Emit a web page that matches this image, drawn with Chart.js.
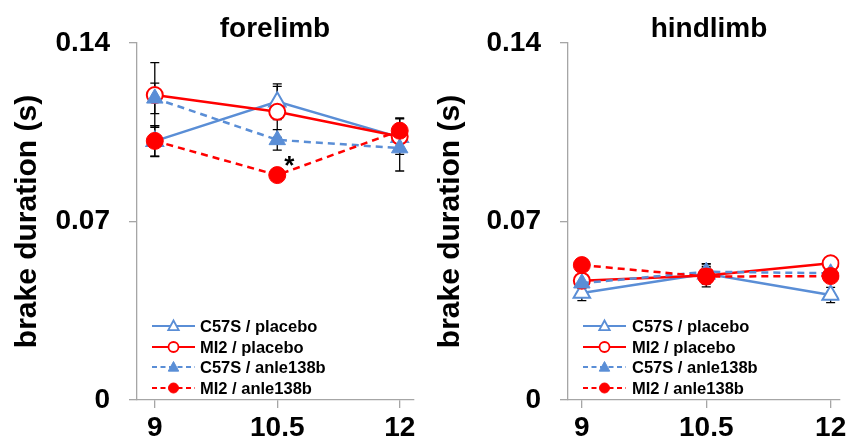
<!DOCTYPE html>
<html>
<head>
<meta charset="utf-8">
<script src="https://cdn.jsdelivr.net/npm/chart.js@4.4.1/dist/chart.umd.min.js"></script>
<style>
  html, body { margin: 0; padding: 0; background: #fff; }
  #wrap { position: relative; width: 851px; height: 445px; overflow: hidden; }
  .pane { position: absolute; top: 0; height: 445px; }
</style>
</head>
<body>
<div id="wrap">
  <div class="pane" id="p1" style="left:0;width:425px;"><canvas id="c1"></canvas></div>
  <div class="pane" id="p2" style="left:425px;width:426px;"><canvas id="c2"></canvas></div>
</div>
<script>
// ---------- data ----------
const ages = [9, 10.5, 12];
const yTicks = [0, 0.07, 0.14];
const seriesNames = ["C57S / placebo", "MI2 / placebo", "C57S / anle138b", "MI2 / anle138b"];

const foreC57Placebo = [0.1015, 0.1170, 0.1030];
const foreMI2Placebo = [0.1196, 0.1130, 0.1033];
const foreC57Anle    = [0.1183, 0.1020, 0.0988];
const foreMI2Anle    = [0.1016, 0.0882, 0.1056];
const foreC57PlaceboErr = [0.0060, 0.0070, 0.0040];
const foreMI2PlaceboErr = [0.0127, 0.0100, 0.0070];
const foreC57AnleErr    = [0.0060, 0.0040, 0.0090];
const foreMI2AnleErr    = [0.0060, 0.0020, 0.0050];

const hindC57Placebo = [0.0420, 0.0495, 0.0412];
const hindMI2Placebo = [0.0468, 0.0488, 0.0536];
const hindC57Anle    = [0.0458, 0.0503, 0.0497];
const hindMI2Anle    = [0.0529, 0.0484, 0.0486];
const hindC57PlaceboErr = [0.0030, 0.0040, 0.0030];
const hindMI2PlaceboErr = [0.0020, 0.0030, 0.0020];
const hindC57AnleErr    = [0.0020, 0.0030, 0.0030];
const hindMI2AnleErr    = [0.0020, 0.0040, 0.0020];

// ---------- styling ----------
const BLUE = '#5a8ed6';
const RED = '#ff0000';
const AXIS = '#a6a6a6';
const FONT = '"Liberation Sans", Arial, sans-serif';

function makeDatasets(v1, v2, v3, v4, e1, e2, e3, e4) {
  const pts = v => ages.map((a, i) => ({ x: a, y: v[i] }));
  return [
    { label: seriesNames[0], data: pts(v1), err: e1, borderColor: BLUE, borderWidth: 2.5, borderDash: [],
      pointStyle: 'triangle', pointRadius: 9.5, pointBackgroundColor: '#ffffff', pointBorderColor: BLUE, pointBorderWidth: 2, order: 4 },
    { label: seriesNames[1], data: pts(v2), err: e2, borderColor: RED, borderWidth: 2.5, borderDash: [],
      pointStyle: 'circle', pointRadius: 8, pointBackgroundColor: '#ffffff', pointBorderColor: RED, pointBorderWidth: 2, order: 3 },
    { label: seriesNames[2], data: pts(v3), err: e3, borderColor: BLUE, borderWidth: 2.5, borderDash: [7, 5],
      pointStyle: 'triangle', pointRadius: 9.5, pointBackgroundColor: BLUE, pointBorderColor: BLUE, pointBorderWidth: 1, order: 2 },
    { label: seriesNames[3], data: pts(v4), err: e4, borderColor: RED, borderWidth: 2.5, borderDash: [7, 5],
      pointStyle: 'circle', pointRadius: 8.5, pointBackgroundColor: RED, pointBorderColor: RED, pointBorderWidth: 1, order: 1 }
  ];
}

// error bars drawn under markers
const errorBars = {
  id: 'errorBars',
  beforeDatasetsDraw(chart) {
    const { ctx, scales: { x, y } } = chart;
    ctx.save();
    ctx.strokeStyle = '#000';
    ctx.lineWidth = 1.3;
    chart.data.datasets.forEach(ds => {
      ds.data.forEach((p, i) => {
        const e = ds.err[i];
        const px = x.getPixelForValue(p.x);
        const yt = y.getPixelForValue(p.y + e);
        const yb = y.getPixelForValue(p.y - e);
        ctx.beginPath();
        ctx.moveTo(px, yt); ctx.lineTo(px, yb);
        ctx.moveTo(px - 4.5, yt); ctx.lineTo(px + 4.5, yt);
        ctx.moveTo(px - 4.5, yb); ctx.lineTo(px + 4.5, yb);
        ctx.stroke();
      });
    });
    ctx.restore();
  }
};

function drawMarker(ctx, ds, cx, cy, r) {
  ctx.save();
  ctx.setLineDash([]);
  ctx.fillStyle = ds.pointBackgroundColor;
  ctx.strokeStyle = ds.pointBorderColor;
  ctx.lineWidth = ds.pointBorderWidth === 2 ? 1.8 : 1;
  ctx.beginPath();
  if (ds.pointStyle === 'triangle') {
    ctx.moveTo(cx, cy - r);
    ctx.lineTo(cx + r * 0.95, cy + r * 0.75);
    ctx.lineTo(cx - r * 0.95, cy + r * 0.75);
    ctx.closePath();
  } else {
    ctx.arc(cx, cy, r, 0, Math.PI * 2);
  }
  ctx.fill();
  ctx.stroke();
  ctx.restore();
}

// in-plot legend, title and annotations
const decor = {
  id: 'decor',
  afterDraw(chart, args, opts) {
    const { ctx, chartArea } = chart;
    ctx.save();
    // title
    ctx.fillStyle = '#000';
    ctx.font = 'bold 28px ' + FONT;
    ctx.textAlign = 'center';
    ctx.textBaseline = 'alphabetic';
    ctx.fillText(opts.title, opts.titleX, 37);
    // legend
    const rows = [-74, -53, -33, -12];
    chart.data.datasets.forEach((ds, i) => {
      const yy = chartArea.bottom + rows[i];
      const x0 = chartArea.left + 15;
      ctx.save();
      ctx.strokeStyle = ds.borderColor;
      ctx.lineWidth = 2;
      ctx.setLineDash(ds.borderDash.length ? [5, 3.5] : []);
      ctx.beginPath();
      ctx.moveTo(x0, yy); ctx.lineTo(x0 + 43, yy);
      ctx.stroke();
      ctx.restore();
      drawMarker(ctx, ds, x0 + 21.5, yy, ds.pointStyle === 'triangle' ? 5.5 : 5);
      ctx.fillStyle = '#000';
      ctx.font = 'bold 16.5px ' + FONT;
      ctx.textAlign = 'left';
      ctx.textBaseline = 'middle';
      ctx.fillText(ds.label, chartArea.left + opts.textOff, yy + 1);
    });
    // significance star
    if (opts.star) {
      const { x, y } = chart.scales;
      const px = x.getPixelForValue(opts.star.x);
      const py = y.getPixelForValue(opts.star.y);
      ctx.fillStyle = '#000';
      ctx.font = 'bold 26px ' + FONT;
      ctx.textAlign = 'center';
      ctx.textBaseline = 'alphabetic';
      ctx.fillText('*', px + 12, py - 1);
    }
    ctx.restore();
  }
};

function makeChart(canvasId, datasets, cfg) {
  return new Chart(document.getElementById(canvasId), {
    type: 'line',
    data: { datasets },
    options: {
      responsive: true,
      maintainAspectRatio: false,
      animation: false,
      layout: { padding: { left: 0, right: cfg.padRight, top: 43, bottom: 0 } },
      plugins: {
        legend: { display: false },
        tooltip: { enabled: false },
        title: { display: false },
        decor: { title: cfg.title, titleX: cfg.titleX, textOff: cfg.textOff, star: cfg.star }
      },
      elements: { line: { tension: 0 } },
      scales: {
        x: {
          type: 'linear',
          min: cfg.xMin, max: cfg.xMax,
          afterBuildTicks: s => { s.ticks = ages.map(v => ({ value: v })); },
          afterFit: s => { s.height = 45; },
          ticks: { font: { family: FONT, size: 28, weight: 'bold' }, color: '#000', padding: 3,
                   maxRotation: 0, autoSkip: false, callback: v => String(v) },
          grid: { drawOnChartArea: false, drawTicks: true, tickLength: 8, color: AXIS, lineWidth: 1.3 },
          border: { color: AXIS, width: 1.3 }
        },
        y: {
          min: 0, max: 0.14,
          afterBuildTicks: s => { s.ticks = yTicks.map(v => ({ value: v })); },
          afterFit: s => { s.width = cfg.yWidth; },
          ticks: { font: { family: FONT, size: 28, weight: 'bold' }, color: '#000', padding: 19,
                   callback: v => (v === 0 ? '0' : v.toFixed(2)) },
          grid: { drawOnChartArea: false, drawTicks: true, tickLength: 8, color: AXIS, lineWidth: 1.3 },
          border: { color: AXIS, width: 1.3 },
          title: { display: true, text: 'brake duration (s)', color: '#000',
                   font: { family: FONT, size: 30, weight: 'bold' }, padding: { top: cfg.titlePad, bottom: 0 } }
        }
      }
    },
    plugins: [errorBars, decor]
  });
}

makeChart('c1',
  makeDatasets(foreC57Placebo, foreMI2Placebo, foreC57Anle, foreMI2Anle,
               foreC57PlaceboErr, foreMI2PlaceboErr, foreC57AnleErr, foreMI2AnleErr),
  { title: 'forelimb', titleX: 275, padRight: 8, yWidth: 137, xMin: 8.782, xMax: 12.169,
    textOff: 63, titlePad: 10, star: { x: 10.5, y: foreMI2Anle[1] } });

makeChart('c2',
  makeDatasets(hindC57Placebo, hindMI2Placebo, hindC57Anle, hindMI2Anle,
               hindC57PlaceboErr, hindMI2PlaceboErr, hindC57AnleErr, hindMI2AnleErr),
  { title: 'hindlimb', titleX: 709 - 425, padRight: 8, yWidth: 143, xMin: 8.833, xMax: 12.107,
    textOff: 64, titlePad: 8, star: null });
</script>
</body>
</html>
